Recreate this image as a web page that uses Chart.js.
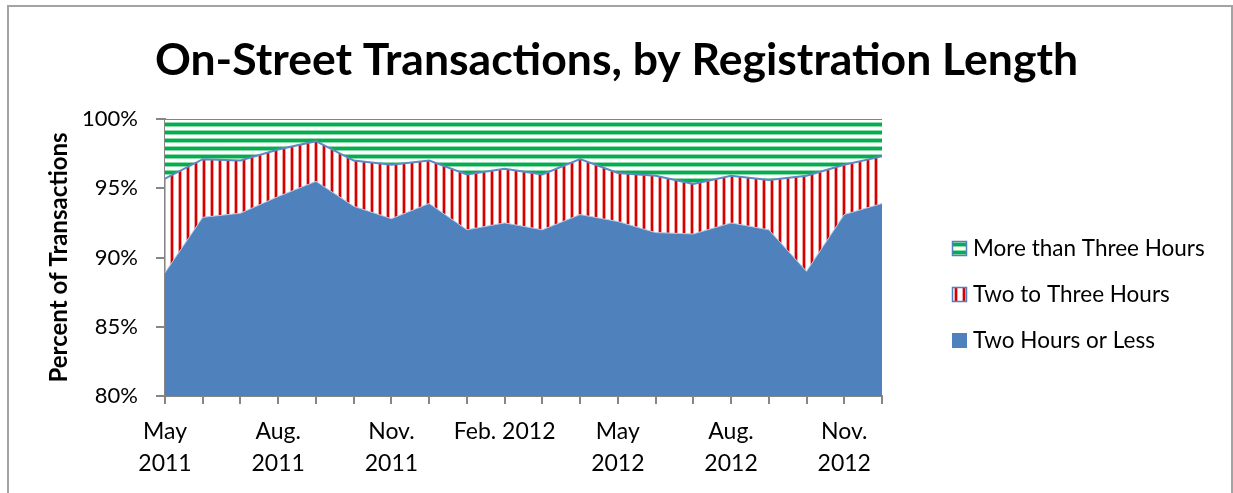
<!DOCTYPE html>
<html lang="en">
<head>
<meta charset="utf-8"/>
<title>On-Street Transactions, by Registration Length</title>
<script src="https://cdn.jsdelivr.net/npm/chart.js"></script>
<style>
    html, body {
      margin: 0;
      padding: 0;
      background: #fff;
      overflow: hidden;
    }
    #wrap {
      position: absolute;
      left: 0;
      top: 0;
      width: 1233px;
      height: 493px;
    }
    #frame {
      position: absolute;
      left: 7px;
      top: 5px;
      width: 1226px;
      height: 560px;
      border: 2px solid #a3a3a3;
      box-sizing: border-box;
      pointer-events: none;
    }
  </style>
</head>
<body>
<div id="wrap"><canvas id="chart" width="1233" height="493"></canvas></div>
<div id="frame"></div>
<script>
    // months May 2011 .. Dec 2012
    const months = ['May 2011', 'Jun 2011', 'Jul 2011', 'Aug 2011', 'Sep 2011', 'Oct 2011', 'Nov 2011', 'Dec 2011',
      'Jan 2012', 'Feb 2012', 'Mar 2012', 'Apr 2012', 'May 2012', 'Jun 2012', 'Jul 2012', 'Aug 2012',
      'Sep 2012', 'Oct 2012', 'Nov 2012', 'Dec 2012'];
    const tickLabels = [['May', '2011'], '', '', ['Aug.', '2011'], '', '', ['Nov.', '2011'], '', '',
      'Feb. 2012', '', '', ['May', '2012'], '', '', ['Aug.', '2012'], '', '', ['Nov.', '2012'], ''];
    const yTicks = [80, 85, 90, 95, 100];

    // share of transactions (%)
    const twoOrLess = [88.9, 92.9, 93.2, 94.4, 95.5, 93.7, 92.8, 93.9, 92.0, 92.5,
      92.0, 93.1, 92.6, 91.8, 91.7, 92.5, 92.0, 89.0, 93.1, 93.9];
    const twoToThree = [6.8, 4.2, 3.8, 3.4, 2.9, 3.3, 3.9, 3.1, 4.0, 3.9,
      4.0, 4.0, 3.5, 4.1, 3.6, 3.4, 3.6, 6.9, 3.6, 3.4];
    const moreThanThree = [4.3, 2.9, 3.0, 2.2, 1.6, 3.0, 3.3, 3.0, 4.0, 3.6,
      4.0, 2.9, 3.9, 4.1, 4.7, 4.1, 4.4, 4.1, 3.3, 2.7];

    const BLUE = '#4f81bd';
    const FONT = "Lato, 'Open Sans', sans-serif";

    function stripes(vertical) {
      const c = document.createElement('canvas');
      c.width = vertical ? 8 : 1;
      c.height = vertical ? 1 : 8;
      const g = c.getContext('2d');
      g.fillStyle = '#ffffff';
      g.fillRect(0, 0, c.width, c.height);
      if (vertical) {
        g.fillStyle = '#f2a0a0';
        g.fillRect(2, 0, 1, 1);
        g.fillRect(5, 0, 1, 1);
        g.fillStyle = '#d40000';
        g.fillRect(3, 0, 2, 1);
      } else {
        g.fillStyle = '#8fd9ad';
        g.fillRect(0, 2, 1, 1);
        g.fillRect(0, 6, 1, 1);
        g.fillStyle = '#00b050';
        g.fillRect(0, 3, 1, 3);
      }
      return g.createPattern(c, 'repeat');
    }

    const redPattern = stripes(true);
    const greenPattern = stripes(false);

    // legend drawn to the right of the plot, top item first
    const sideLegend = {
      id: 'sideLegend',
      afterDraw(chart) {
        const ctx = chart.ctx;
        const area = chart.chartArea;
        const x = area.right + 70;
        const rows = [248, 294, 340];
        const items = chart.data.datasets.slice().reverse();
        ctx.save();
        ctx.font = '22.5px ' + FONT;
        ctx.textBaseline = 'middle';
        ctx.textAlign = 'left';
        items.forEach((ds, i) => {
          const y = rows[i];
          ctx.fillStyle = ds.legendFill;
          ctx.fillRect(x, y - 7, 15, 15);
          if (ds.legendFill !== BLUE) {
            ctx.strokeStyle = BLUE;
            ctx.lineWidth = 1.5;
            ctx.strokeRect(x + 0.5, y - 6.5, 14, 14);
          }
          ctx.fillStyle = '#000';
          ctx.fillText(ds.label, x + 21, y + 1);
        });
        ctx.restore();
      }
    };

    const ctx = document.getElementById('chart').getContext('2d');
    new Chart(ctx, {
      type: 'line',
      data: {
        labels: months,
        datasets: [
          {
            label: 'Two Hours or Less',
            data: twoOrLess,
            backgroundColor: BLUE,
            legendFill: BLUE,
            borderColor: '#b4c9e6',
            borderWidth: 1,
            fill: 'origin',
            pointRadius: 0,
            tension: 0
          },
          {
            label: 'Two to Three Hours',
            data: twoToThree,
            backgroundColor: redPattern,
            legendFill: redPattern,
            borderColor: '#5b8ac6',
            borderWidth: 2,
            fill: '-1',
            pointRadius: 0,
            tension: 0
          },
          {
            label: 'More than Three Hours',
            data: moreThanThree,
            backgroundColor: greenPattern,
            legendFill: greenPattern,
            borderColor: '#5b8ac6',
            borderWidth: 2,
            fill: '-1',
            pointRadius: 0,
            tension: 0
          }
        ]
      },
      options: {
        responsive: false,
        animation: false,
        layout: { padding: 0 },
        plugins: {
          legend: { display: false },
          tooltip: { enabled: false },
          title: {
            display: true,
            text: 'On-Street Transactions, by Registration Length',
            color: '#000',
            font: { family: FONT, size: 44.5, weight: 'bold', lineHeight: 1.2 },
            padding: { top: 34, bottom: 31.6 }
          }
        },
        scales: {
          x: {
            offset: false,
            grid: {
              display: true,
              drawOnChartArea: false,
              drawTicks: true,
              tickLength: 8,
              color: '#868686',
              lineWidth: 2
            },
            border: { display: true, color: '#868686', width: 2 },
            ticks: {
              autoSkip: false,
              maxRotation: 0,
              minRotation: 0,
              padding: 12,
              color: '#000',
              font: { family: FONT, size: 23, lineHeight: 1.39 },
              callback: (v, i) => tickLabels[i]
            },
            afterFit: s => { s.height = 97; }
          },
          y: {
            stacked: true,
            min: 80,
            max: 100,
            afterBuildTicks: s => { s.ticks = yTicks.map(v => ({ value: v })); },
            grid: {
              display: true,
              drawOnChartArea: false,
              drawTicks: true,
              tickLength: 9,
              color: '#868686',
              lineWidth: 2
            },
            border: { display: true, color: '#868686', width: 2 },
            ticks: {
              padding: 18,
              color: '#000',
              font: { family: FONT, size: 22 },
              callback: v => v + '%'
            },
            title: {
              display: true,
              text: 'Percent of Transactions',
              color: '#000',
              font: { family: FONT, size: 24, weight: 'bold', lineHeight: 1.2 },
              padding: { top: 45, bottom: 0 }
            },
            afterFit: s => { s.width = 165; }
          },
          pad: {
            position: 'right',
            display: true,
            grid: { display: false },
            border: { display: false },
            ticks: { display: false },
            afterFit: s => { s.width = 351; }
          }
        }
      },
      plugins: [sideLegend]
    });
  </script>
</body>
</html>
